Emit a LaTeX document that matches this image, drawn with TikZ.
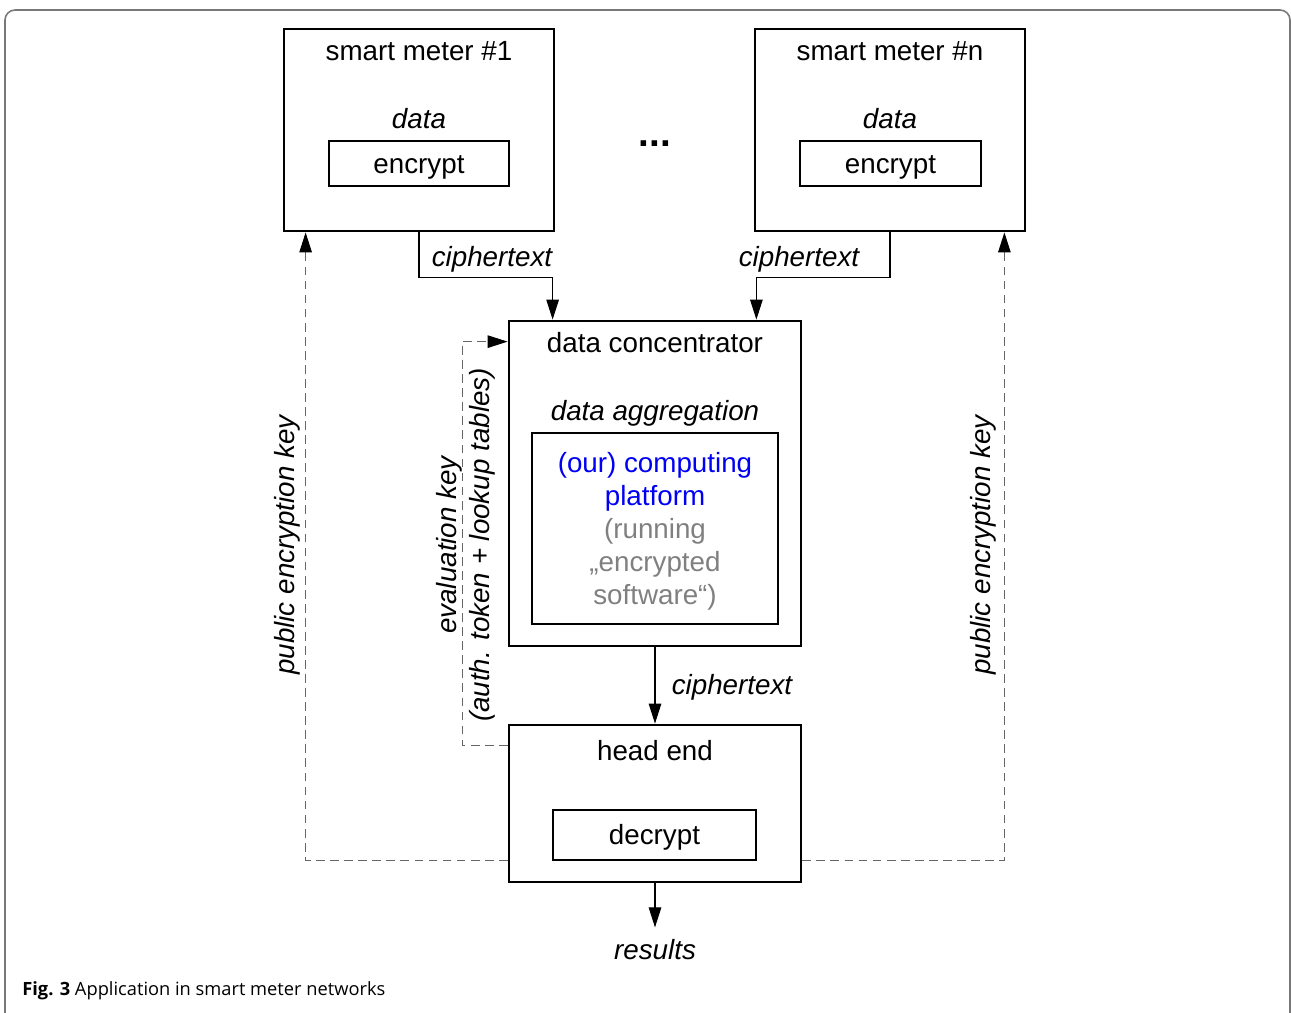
\documentclass[tikz,border=0pt]{standalone}
\usepackage{fontspec}
\setmainfont{Liberation Sans}
\newfontfamily\capfont{Open Sans}
\usetikzlibrary{arrows.meta}
\definecolor{frame gray}{RGB}{120,120,120}
\definecolor{note gray}{RGB}{128,128,128}
\definecolor{platform blue}{RGB}{0,0,245}

\begin{document}
\begin{tikzpicture}[x=0.02cm, y=-0.02cm, font=\fontsize{15.8}{19}\selectfont,
	box/.style={draw, line width=1.6pt, inner sep=0pt},
	inner box/.style={draw, line width=1.3pt, inner sep=0pt, text height=1.1em, text depth=0em},
	conn/.style={draw, line width=0.6pt, -{Triangle[length=0.4cm, width=0.25cm]}},
	key line/.style={draw=note gray!80!black, line width=0.6pt, dash pattern=on 5pt off 3pt, -{Triangle[length=0.4cm, width=0.25cm, color=black]}},
	note/.style={font=\fontsize{15.8}{19}\selectfont\itshape}]
	\useasboundingbox (0,0) rectangle (1291,1012);
	\draw[frame gray, line width=0.9pt, rounded corners=0.2cm] (5,1040) -- (5,10) -- (1290,10) -- (1290,1040);

	\node[box, minimum width=5.4cm, minimum height=4.04cm] (sm1) at (419,130) {};
	\node (sm1 title) at (419,51) {smart meter \#1};
	\node[note] (sm1 data) at (419,119) {data};
	\node[inner box, minimum width=3.6cm, minimum height=0.9cm] (enc1) at (419,163.5) {encrypt};

	\node[box, minimum width=5.4cm, minimum height=4.04cm] (smn) at (890,130) {};
	\node (smn title) at (890,51) {smart meter \#n};
	\node[note] (smn data) at (890,119) {data};
	\node[inner box, minimum width=3.62cm, minimum height=0.9cm] (encn) at (890.5,163.5) {encrypt};

	\node[font=\fontsize{22}{22}\selectfont\bfseries, anchor=base] (dots) at (655,146) {...};

	\node[box, minimum width=5.84cm, minimum height=6.5cm] (dc) at (655,483.5) {};
	\node (dc title) at (655,343) {data concentrator};
	\node[note] (dc agg) at (655,413) {data aggregation};
	\node[inner box, minimum width=4.92cm, minimum height=3.82cm] (platform) at (655,528.5) {};
	\node[align=center, font=\fontsize{15.8}{18.8}\selectfont] (platform text) at (655,531)
		{\textcolor{platform blue}{(our) computing}\\\textcolor{platform blue}{platform}\\\textcolor{note gray}{(running}\\\textcolor{note gray}{„encrypted}\\\textcolor{note gray}{software“)}};

	\node[box, minimum width=5.84cm, minimum height=3.14cm] (he) at (655,803.5) {};
	\node (he title) at (655,751) {head end};
	\node[inner box, minimum width=4.06cm, minimum height=1.0cm] (dec) at (654.5,835) {decrypt};

	\node[note] (results) at (655,950) {results};

	\coordinate (dc in1) at ([xshift=0.9cm]dc.north west);
	\coordinate (dc inn) at ([xshift=-0.92cm]dc.north east);
	\coordinate (sm1 key) at ([xshift=0.46cm]sm1.south west);
	\coordinate (smn key) at ([xshift=-0.44cm]smn.south east);
	\coordinate (he key l) at ([yshift=0.46cm]he.south west);
	\coordinate (he key r) at ([yshift=0.46cm]he.south east);
	\coordinate (he eval) at ([yshift=-0.44cm]he.north west);
	\coordinate (dc eval) at ([yshift=-0.44cm]dc.north west);

	\path[conn] (sm1.south) -- ++(0,45) -| (dc in1);
	\path[conn] (smn.south) -- ++(0,45) -| (dc inn);
	\path[conn] (dc.south) -- (he.north);
	\path[conn] (he.south) -- ++(0,44);
	\path[key line] (he key l) -| (sm1 key);
	\path[key line] (he key r) -| (smn key);
	\path[key line] (he eval) -- ++(-45,0) |- (dc eval);

	\node[note] (cipher1) at (492,259) {ciphertext};
	\node[note] (ciphern) at (799,259) {ciphertext};
	\node[note] (cipher dc) at (732,687) {ciphertext};
	\node[note, rotate=90] (pub l) at (287,545) {public encryption key};
	\node[note, rotate=90] (pub r) at (983,545) {public encryption key};
	\node[note, rotate=90, align=center, font=\fontsize{15.8}{18.5}\selectfont\itshape] (eval) at (466,545) {evaluation key\\(auth. token + lookup tables)};

	\node[anchor=west, inner sep=0pt, font=\capfont\fontsize{10.4}{12}\selectfont] (caption) at (22,991) {\textbf{Fig. 3} Application in smart meter networks};
\end{tikzpicture}
\end{document}
